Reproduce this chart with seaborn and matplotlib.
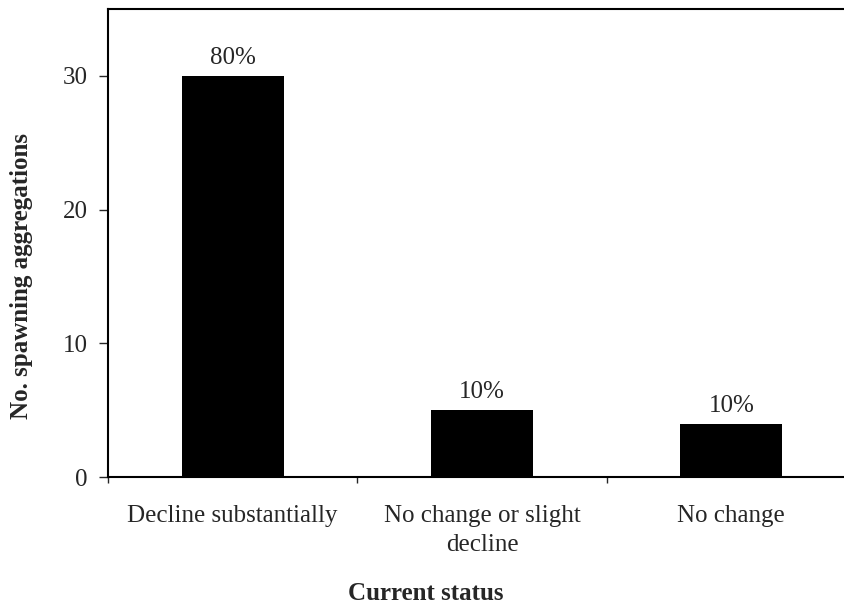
import matplotlib
matplotlib.use("Agg")
import matplotlib.pyplot as plt
import seaborn as sns
import pandas as pd

# data
status = ["Decline substantially", "No change or slight\ndecline", "No change"]
n_aggregations = [30, 5, 4]
pct_labels = ["80%", "10%", "10%"]

sns.set_style("white")
plt.rcParams['font.family'] = ['Liberation Serif', 'DejaVu Serif']

df = pd.DataFrame({"status": status, "n": n_aggregations})

fig = plt.figure(figsize=(8.44, 6.07), dpi=100)
# axes runs a little past the right edge, like the original crop
ax = fig.add_axes([108 / 844, 130 / 607, 748 / 844, 468 / 607])

sns.barplot(data=df, x="status", y="n", color="black", width=0.41,
            saturation=1, edgecolor="black", linewidth=0, ax=ax)

for p, lab in zip(ax.patches, pct_labels):
    ax.annotate(lab, (p.get_x() + p.get_width() / 2., p.get_height()),
                ha='center', va='bottom', xytext=(0, 5),
                textcoords='offset points', fontsize=18)

ax.set_xlim(-0.5, 2.5)
ax.set_ylim(0, 35)
ax.set_yticks([0, 10, 20, 30])
ax.set_xticks([-0.5, 0.5, 1.5, 2.5], minor=True)

ax.tick_params(axis='y', which='major', direction='out', length=6.5, width=1,
               pad=8, labelsize=18, left=True)
ax.tick_params(axis='x', which='major', length=0, pad=20, labelsize=18)
ax.tick_params(axis='x', which='minor', direction='out', length=4.5, width=1,
               bottom=True)
for t in ax.get_xticklabels():
    t.set_linespacing(1.45)

for side in ["left", "bottom", "top", "right"]:
    ax.spines[side].set_visible(True)
    ax.spines[side].set_color("black")
    ax.spines[side].set_linewidth(1.5)

ax.set_xlabel("")
ax.set_ylabel("")
fig.text(22 / 844, 1 - 276 / 607, "No. spawning aggregations", rotation=90,
         ha='center', va='center', fontsize=18, fontweight='bold')
fig.text(426 / 844, 1 - 594 / 607, "Current status", ha='center', va='center',
         fontsize=18, fontweight='bold')

fig.savefig("out.png", dpi=100)
